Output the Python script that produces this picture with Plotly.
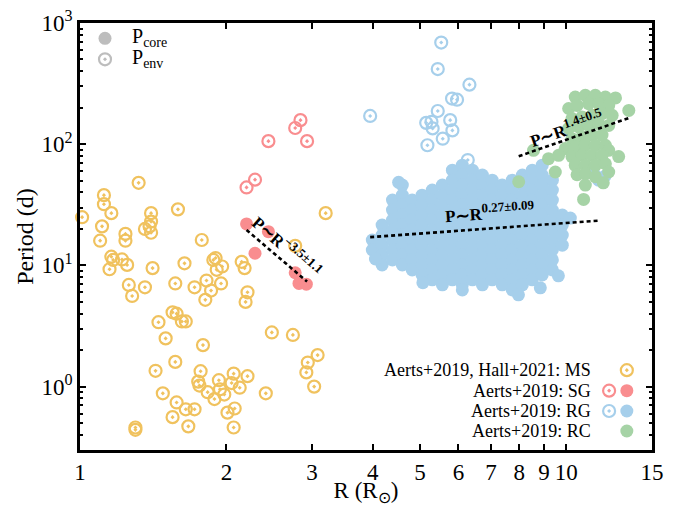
import numpy as np
import plotly.graph_objects as go

# ---------------- data (R in Rsun, P in days) ----------------
# Main sequence (open, P_env)
ms_R = [1.32, 1.12, 1.12, 1.16, 1.01, 1.11, 1.10, 1.24, 1.24, 1.40, 1.40, 1.36, 1.40, 1.59, 1.39,
        1.16, 1.17, 1.22, 1.15, 1.25, 1.41, 1.26, 1.28, 1.36, 1.57, 1.64, 1.78, 1.72, 1.82, 1.86,
        1.81, 1.88, 1.90, 1.96, 1.91, 1.95, 2.15, 2.18, 2.21, 2.19, 1.55, 1.58, 1.62, 1.65, 1.45,
        1.50, 1.79, 2.48, 2.74, 3.20, 3.08, 2.94, 2.92, 3.03, 2.41, 1.43, 1.57, 1.48, 1.58, 1.55,
        1.65, 1.72, 1.67, 1.77, 1.75, 1.76, 1.83, 1.89, 1.93, 1.94, 1.98, 2.07, 2.05, 2.13, 2.21,
        2.01, 2.08, 2.07, 1.30, 1.30, 2.77]
ms_P = [48, 38, 32, 27, 25, 21, 16, 18.2, 16.0, 27, 23, 20, 18.6, 29, 21,
        11.8, 11.1, 11.2, 9.3, 10.1, 9.5, 6.9, 5.6, 6.6, 7.1, 10.4, 16.2, 6.6, 7.5, 6.2,
        5.2, 11.1, 11.5, 9.8, 9.2, 7.1, 10.7, 9.5, 6.0, 5.0, 4.1, 4.0, 3.45, 3.45, 3.4,
        2.5, 2.2, 2.8, 2.67, 27, 1.82, 1.58, 1.31, 1.0, 0.88, 1.35, 1.6, 0.88, 0.74, 0.56,
        0.65, 0.65, 0.47, 1.34, 1.1, 1.02, 0.90, 0.79, 1.13, 0.95, 0.86, 1.28, 1.07, 0.98, 1.22,
        0.61, 0.66, 0.46, 0.46, 0.44, 14.5]

# Subgiants
sg_env_R = [2.84, 2.77, 2.93, 2.44, 2.29, 2.20]
sg_env_P = [158, 136, 106, 106, 51, 44]
sg_core_R = [2.20, 2.44, 2.29, 2.77, 2.82, 2.92]
sg_core_P = [22.0, 19.0, 12.6, 8.7, 7.1, 7.0]

# Red giants
rg_env_R = [5.53, 5.44, 6.32, 5.82, 5.96, 3.95, 5.44, 5.15, 5.28, 5.31, 5.77, 5.83, 5.57, 5.18, 6.27]
rg_env_P = [690, 417, 310, 238, 233, 171, 188, 150, 153, 135, 158, 130, 111, 98, 74]

rg_core_cols_R = [3.99, 4.18, 4.39, 4.60, 4.82, 5.05, 5.30, 5.56, 5.83, 6.11, 6.41,
                  6.72, 7.04, 7.38, 7.74, 8.12, 8.51, 8.92, 9.36, 9.81, 10.19]
rg_core_cols_P = [
    [16.2, 13.4],
    [21.5, 17.8, 14.7, 12.2, 10.1],
    [34.6, 28.6, 23.7, 19.6, 16.2, 13.4, 11.1],
    [46.0, 38.0, 31.5, 26.0, 21.5, 17.8, 14.7, 12.2, 10.1],
    [34.6, 28.6, 23.7, 19.6, 16.2, 13.4, 11.1, 9.18],
    [38.0, 31.5, 26.0, 21.5, 17.8, 14.7, 12.2, 10.1, 8.35],
    [41.8, 34.6, 28.6, 23.7, 19.6, 16.2, 13.4, 11.1, 9.18, 7.60],
    [46.0, 38.0, 31.5, 26.0, 21.5, 17.8, 14.7, 12.2, 10.1, 8.35, 6.91],
    [61.1, 50.5, 41.8, 34.6, 28.6, 23.7, 19.6, 16.2, 13.4, 11.1, 9.18, 7.60],
    [67.2, 55.6, 46.0, 38.0, 31.5, 26.0, 21.5, 17.8, 14.7, 12.2, 10.1, 8.35, 6.91],
    [61.1, 50.5, 41.8, 34.6, 28.6, 23.7, 19.6, 16.2, 13.4, 11.1, 9.18, 7.60],
    [55.6, 46.0, 38.0, 31.5, 26.0, 21.5, 17.8, 14.7, 12.2, 10.1, 8.35, 6.91],
    [50.5, 41.8, 34.6, 28.6, 23.7, 19.6, 16.2, 13.4, 11.1, 9.18, 7.60],
    [46.0, 38.0, 31.5, 26.0, 21.5, 17.8, 14.7, 12.2, 10.1, 8.35, 6.91],
    [50.5, 41.8, 34.6, 28.6, 23.7, 19.6, 16.2, 13.4, 11.1, 9.18, 7.60, 6.28],
    [55.6, 46.0, 38.0, 31.5, 26.0, 21.5, 17.8, 14.7, 12.2, 10.1, 8.35, 6.91],
    [61.1, 50.5, 41.8, 34.6, 28.6, 23.7, 19.6, 16.2, 13.4, 11.1, 9.18, 7.60],
    [67.2, 55.6, 46.0, 38.0, 31.5, 26.0, 21.5, 17.8, 14.7, 12.2, 10.1, 8.35],
    [50.5, 41.8, 34.6, 28.6, 23.7, 19.6, 16.2, 13.4, 11.1, 9.18],
    [26.0, 21.5, 17.8, 14.7],
    [24.6],
]
rg_core_extra_R = [8.84, 7.97, 11.4, 12.0, 11.65, 5.07, 6.11, 9.63, 4.52, 4.05]
rg_core_extra_P = [6.53, 5.72, 57, 54.5, 50.5, 7.2, 6.28, 8.2, 48.5, 11.3]

# Red clump
rc_core_R = [10.43, 10.94, 11.47, 12.03, 12.62, 10.11, 10.52, 11.11, 11.65, 12.22, 13.44, 10.27, 10.77,
             11.29, 11.84, 12.42, 10.11, 10.60, 11.11, 11.65, 12.22, 10.27, 10.77, 11.29, 11.84, 9.95,
             10.43, 10.94, 11.47, 12.03, 12.22, 9.19, 9.64, 10.27, 10.77, 11.29, 11.84, 12.81, 8.56,
             9.49, 10.43, 10.94, 11.47, 12.03, 10.52, 10.94, 11.47, 12.22, 10.94, 7.98, 10.85, 11.91]
rc_core_P = [245, 253, 253, 245, 241, 197, 209, 216, 216, 209, 190, 163, 168,
             173, 179, 173, 135, 139, 143, 148, 143, 111, 115, 119, 119, 92,
             95, 98, 98, 98, 89, 76, 81, 79, 81, 81, 81, 79, 89,
             59, 67, 67, 67, 69, 56, 57, 54, 59, 46, 49, 35, 48]

# Power-law fits (end points)
sg_fit_R = [2.20, 2.93]
sg_fit_P = [19.6, 7.36]
rg_fit_R = [3.95, 11.65]
rg_fit_P = [17.1, 23.4]
rc_fit_R = [7.98, 13.48]
rc_fit_P = [79.6, 165]

# Axis ticks
x_tickvals = [1, 2, 3, 4, 5, 6, 7, 8, 9, 10, 15]
x_ticktext = ["1", "2", "3", "4", "5", "6", "7", "8", "9", "10", "15"]
y_tickvals = [1, 10, 100, 1000]
y_ticktext = ["10<sup>0</sup>", "10<sup>1</sup>", "10<sup>2</sup>", "10<sup>3</sup>"]
y_minor = [0.4, 0.5, 0.6, 0.7, 0.8, 0.9, 2, 3, 4, 5, 6, 7, 8, 9,
           20, 30, 40, 50, 60, 70, 80, 90, 200, 300, 400, 500, 600, 700, 800, 900]

# ---------------- styling ----------------
C_MS = "#F0C25E"
C_SG = "#F98D8F"
C_RG = "#A6CFEB"
C_RC = "#A6D3A6"
C_GREY = "#BDBDBD"
FONT = "Liberation Serif"

rg_core_R = []
rg_core_P = []
for r, ps in zip(rg_core_cols_R, rg_core_cols_P):
    for p in ps:
        rg_core_R.append(r)
        rg_core_P.append(p)
rg_core_R += rg_core_extra_R
rg_core_P += rg_core_extra_P

OPEN_SIZE = 12
FILL_SIZE = 13


def open_trace(x, y, color):
    return go.Scatter(x=x, y=y, mode="markers", cliponaxis=False, showlegend=False,
                      marker=dict(symbol="circle-open-dot", size=OPEN_SIZE, color=color,
                                  line=dict(width=2.2, color=color)))


def fill_trace(x, y, color):
    return go.Scatter(x=x, y=y, mode="markers", cliponaxis=False, showlegend=False,
                      marker=dict(symbol="circle", size=FILL_SIZE, color=color, line=dict(width=0)))


fig = go.Figure()
fig.add_trace(open_trace(ms_R, ms_P, C_MS))
fig.add_trace(open_trace(sg_env_R, sg_env_P, C_SG))
fig.add_trace(fill_trace(sg_core_R, sg_core_P, C_SG))
fig.add_trace(open_trace(rg_env_R, rg_env_P, C_RG))
fig.add_trace(fill_trace(rg_core_R, rg_core_P, C_RG))
fig.add_trace(fill_trace(rc_core_R, rc_core_P, C_RC))

for fx, fy in [(sg_fit_R, sg_fit_P), (rg_fit_R, rg_fit_P), (rc_fit_R, rc_fit_P)]:
    fig.add_trace(go.Scatter(x=fx, y=fy, mode="lines", showlegend=False, cliponaxis=False,
                             line=dict(color="black", width=2.6, dash="4px,3px")))

# legend symbols on an overlay axis (0..1 of plot area)
leg = [
    (0.0437, 0.964, "circle", C_GREY),
    (0.0437, 0.915, "circle-open-dot", C_GREY),
    (0.956, 0.187, "circle-open-dot", C_MS),
    (0.925, 0.139, "circle-open-dot", C_SG),
    (0.956, 0.139, "circle", C_SG),
    (0.925, 0.0913, "circle-open-dot", C_RG),
    (0.956, 0.0913, "circle", C_RG),
    (0.956, 0.0445, "circle", C_RC),
]
for lx, ly, sym, col in leg:
    if sym == "circle":
        mk = dict(symbol="circle", size=FILL_SIZE, color=col, line=dict(width=0))
    else:
        mk = dict(symbol=sym, size=OPEN_SIZE, color=col, line=dict(width=2.2, color=col))
    fig.add_trace(go.Scatter(x=[lx], y=[ly], xaxis="x2", yaxis="y2", mode="markers",
                             showlegend=False, cliponaxis=False, marker=mk, hoverinfo="skip"))

ann = []
# legend texts
for ty, txt in [(0.187, "Aerts+2019, Hall+2021: MS"), (0.139, "Aerts+2019: SG"),
                (0.0913, "Aerts+2019: RG"), (0.0445, "Aerts+2019: RC")]:
    ann.append(dict(xref="paper", yref="paper", x=0.897, y=ty, text=txt, showarrow=False,
                    xanchor="right", yanchor="middle", font=dict(family=FONT, size=18, color="black")))
for ty, txt in [(0.966, "P<sub>core</sub>"), (0.917, "P<sub>env</sub>")]:
    ann.append(dict(xref="paper", yref="paper", x=0.087, y=ty, text=txt, showarrow=False,
                    xanchor="left", yanchor="middle", font=dict(family=FONT, size=20, color="black")))

# fit labels
bold = dict(family=FONT, size=17, color="black")
SUP = "<span style='font-size:13px'>{}</span>"
ann.append(dict(xref="x", yref="y", x=np.log10(2.67), y=np.log10(14.2), showarrow=False,
                text="<b>P∼R<sup>" + SUP.format("−3.5±1.1") + "</sup></b>", textangle=41, font=bold))
ann.append(dict(xref="x", yref="y", x=np.log10(6.98), y=np.log10(27.6), showarrow=False,
                text="<b>P∼R<sup>" + SUP.format("0.27±0.09") + "</sup></b>", textangle=-4, font=bold))
ann.append(dict(xref="x", yref="y", x=np.log10(10.0), y=np.log10(138), showarrow=False,
                text="<b>P∼R<sup>" + SUP.format("1.4±0.5") + "</sup></b>", textangle=-19, font=bold))

fig.update_layout(
    width=683, height=506,
    margin=dict(l=80, r=31, t=23, b=56),
    paper_bgcolor="white", plot_bgcolor="white",
    font=dict(family=FONT, color="black"),
    annotations=ann,
    xaxis=dict(type="log", range=[0, np.log10(15)], tickmode="array", tickvals=x_tickvals,
               ticktext=x_ticktext, ticks="inside", ticklen=6, tickwidth=1.8, tickcolor="black",
               showline=True, linewidth=2.6, linecolor="black", mirror="ticks", showgrid=False,
               zeroline=False, automargin=False, tickfont=dict(family=FONT, size=23, color="black"),
               title=dict(text="R (R<sub>⊙</sub>)", font=dict(family=FONT, size=23, color="black"),
                          standoff=2)),
    yaxis=dict(type="log", range=[np.log10(0.3), 3], tickmode="array", tickvals=y_tickvals,
               ticktext=y_ticktext, ticks="inside", ticklen=6, tickwidth=1.8, tickcolor="black",
               showline=True, linewidth=2.6, linecolor="black", mirror="ticks", showgrid=False,
               zeroline=False, automargin=False, tickfont=dict(family=FONT, size=23, color="black"),
               minor=dict(tickmode="array", tickvals=y_minor, ticks="inside", ticklen=3,
                          tickwidth=1.5, tickcolor="black", showgrid=False),
               title=dict(text="Period (d)", font=dict(family=FONT, size=24, color="black"),
                          standoff=2)),
    xaxis2=dict(overlaying="x", range=[0, 1], visible=False, anchor="y2"),
    yaxis2=dict(overlaying="y", range=[0, 1], visible=False, anchor="x2"),
)

fig.write_html("out.html", config={"displayModeBar": False},
               post_script="document.body.style.margin='0';document.body.style.padding='0';"
                           "document.body.style.overflow='hidden';")
